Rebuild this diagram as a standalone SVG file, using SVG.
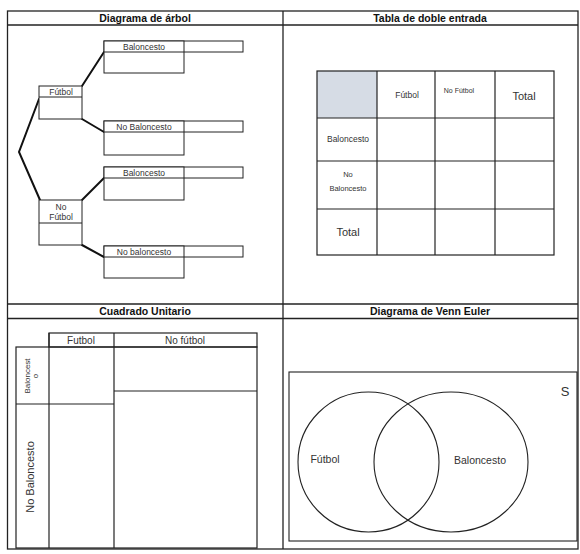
<svg xmlns="http://www.w3.org/2000/svg" width="580" height="554" viewBox="0 0 580 554">
<style>
.frame{fill:none;stroke:#222;stroke-width:1.3}
.box{fill:#fff;stroke:#222;stroke-width:1}
.cell{fill:none;stroke:#222;stroke-width:1.2}
.br{fill:none;stroke:#111;stroke-width:2;stroke-linecap:round}
.t{font-family:"Liberation Sans",Arial,sans-serif;fill:#333;text-anchor:middle}
.h{font-family:"Liberation Sans",Arial,sans-serif;font-weight:bold;font-size:10.5px;fill:#111;text-anchor:middle}
.c{fill:none;stroke:#222;stroke-width:1.1}
</style>
<rect width="580" height="554" fill="#fff"/>
<g id="frame">
<rect class="frame" x="7.5" y="11" width="570.5" height="538"/>
<line class="frame" x1="7.5" y1="25" x2="578" y2="25"/>
<line class="frame" x1="283" y1="11" x2="283" y2="549"/>
<line class="frame" x1="7.5" y1="304" x2="578" y2="304"/>
<line class="frame" x1="7.5" y1="318.5" x2="578" y2="318.5"/>
<text class="h" x="145" y="22">Diagrama de árbol</text>
<text class="h" x="430" y="22">Tabla de doble entrada</text>
<text class="h" x="145" y="315">Cuadrado Unitario</text>
<text class="h" x="430" y="315">Diagrama de Venn Euler</text>
</g>

<g id="connectors">
<polyline class="br" points="39,99 19,152 40,200"/>
<line class="br" x1="82" y1="86" x2="104" y2="52"/>
<line class="br" x1="82" y1="119" x2="104" y2="132"/>
<line class="br" x1="82" y1="200" x2="104" y2="178"/>
<line class="br" x1="82" y1="245" x2="104" y2="257"/>
</g>

<g id="futbol">
<rect class="box" x="39" y="86" width="43" height="33"/>
<line class="box" x1="39" y1="97" x2="82" y2="97"/>
<text class="t" x="61" y="95" font-size="8.5">Fútbol</text>
</g>
<g id="no-futbol">
<rect class="box" x="39" y="200" width="43" height="45"/>
<line class="box" x1="39" y1="223" x2="82" y2="223"/>
<text class="t" x="61" y="209.5" font-size="8.5">No</text>
<text class="t" x="61" y="220" font-size="8.5">Fútbol</text>
</g>
<g id="f-baloncesto">
<rect class="box" x="104" y="41" width="139" height="11"/>
<rect class="box" x="104" y="41" width="80" height="32"/>
<line class="box" x1="104" y1="52" x2="184" y2="52"/>
<text class="t" x="144" y="49.5" font-size="8.5">Baloncesto</text>
</g>
<g id="f-no-baloncesto">
<rect class="box" x="104" y="121" width="139" height="11"/>
<rect class="box" x="104" y="121" width="80" height="34"/>
<line class="box" x1="104" y1="132" x2="184" y2="132"/>
<text class="t" x="144" y="129.5" font-size="8.5">No Baloncesto</text>
</g>
<g id="nf-baloncesto">
<rect class="box" x="104" y="167" width="139" height="11"/>
<rect class="box" x="104" y="167" width="80" height="33"/>
<line class="box" x1="104" y1="178" x2="184" y2="178"/>
<text class="t" x="144" y="175.5" font-size="8.5">Baloncesto</text>
</g>
<g id="nf-no-baloncesto">
<rect class="box" x="104" y="246" width="139" height="11"/>
<rect class="box" x="104" y="246" width="80" height="32"/>
<line class="box" x1="104" y1="257" x2="184" y2="257"/>
<text class="t" x="144" y="254.5" font-size="8.5">No baloncesto</text>
</g>

<g id="tabla">
<rect x="317" y="71" width="60" height="47" fill="#d6dce5"/>
<rect class="cell" x="317" y="71" width="237" height="184"/>
<line class="cell" x1="377" y1="71" x2="377" y2="255"/>
<line class="cell" x1="435" y1="71" x2="435" y2="255"/>
<line class="cell" x1="495" y1="71" x2="495" y2="255"/>
<line class="cell" x1="317" y1="118" x2="554" y2="118"/>
<line class="cell" x1="317" y1="161" x2="554" y2="161"/>
<line class="cell" x1="317" y1="209" x2="554" y2="209"/>
<text class="t" x="407" y="98" font-size="8.5">Fútbol</text>
<text class="t" x="459" y="93" font-size="7">No Fútbol</text>
<text class="t" x="524" y="100" font-size="11" fill="#111">Total</text>
<text class="t" x="348" y="142" font-size="8.5">Baloncesto</text>
<text class="t" x="348" y="177" font-size="7.5">No</text>
<text class="t" x="348" y="191" font-size="7.5">Baloncesto</text>
<text class="t" x="348" y="236" font-size="11" fill="#111">Total</text>
</g>

<g id="cuadrado">
<rect class="cell" x="49" y="333" width="208" height="14"/>
<rect class="cell" x="16" y="347" width="241" height="201"/>
<line class="cell" x1="49" y1="333" x2="49" y2="548"/>
<line class="cell" x1="114" y1="333" x2="114" y2="548"/>
<line class="cell" x1="16" y1="404" x2="114" y2="404"/>
<line class="cell" x1="114" y1="391" x2="257" y2="391"/>
<text class="t" x="81" y="344" font-size="10" fill="#111">Futbol</text>
<text class="t" x="185" y="344" font-size="10" fill="#111">No fútbol</text>
<text class="t" font-size="8" transform="translate(30,376) rotate(-90)">Baloncest</text>
<text class="t" font-size="8" transform="translate(37.5,376) rotate(-90)">o</text>
<text class="t" font-size="11" fill="#111" transform="translate(34,477) rotate(-90)">No Baloncesto</text>
</g>

<g id="venn">
<rect class="c" x="289" y="372" width="288" height="169"/>
<ellipse class="c" cx="368.5" cy="462" rx="70.5" ry="70"/>
<ellipse class="c" cx="451" cy="462" rx="77" ry="70"/>
<text class="t" x="565" y="396" font-size="13" fill="#111">S</text>
<text class="t" x="325" y="463" font-size="10.5" fill="#111">Fútbol</text>
<text class="t" x="480" y="464" font-size="10.5" fill="#111">Baloncesto</text>
</g>
</svg>
